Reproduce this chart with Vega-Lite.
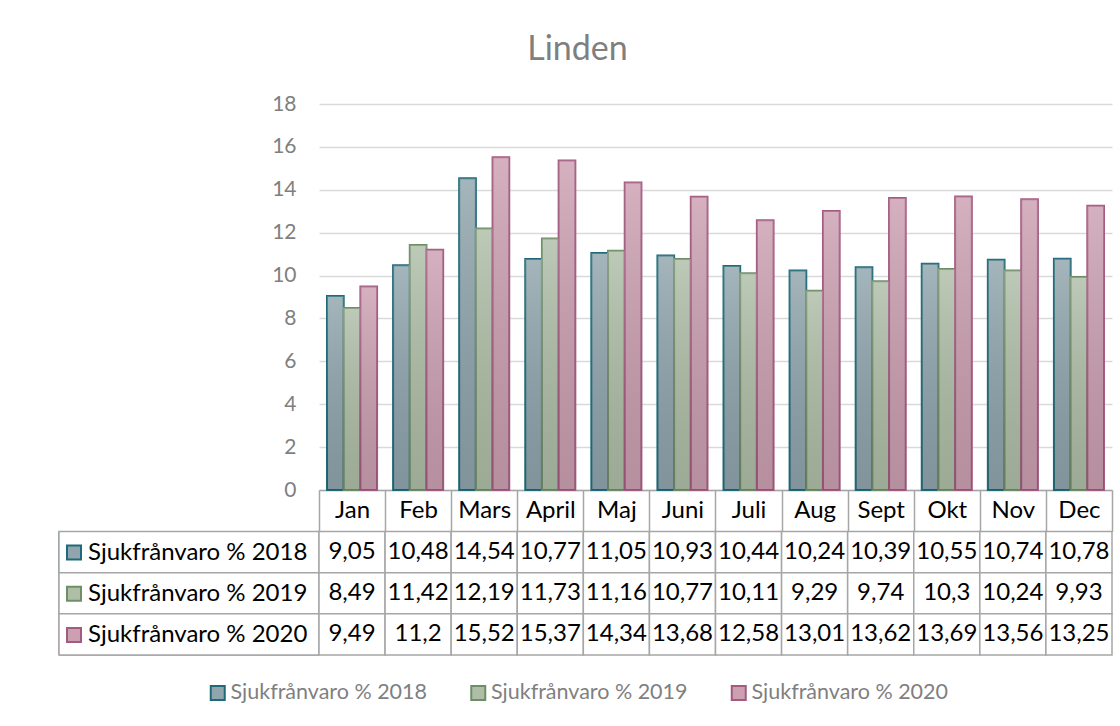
{
  "$schema": "https://vega.github.io/schema/vega-lite/v6.json",
  "background": "white",
  "padding": {"left": 58, "top": 33, "right": 9, "bottom": 20},
  "title": {"text": "Linden", "fontSize": 34, "font": "Lato", "fontWeight": "normal", "color": "#7f7f7f", "anchor": "middle", "frame": "bounds", "offset": 26, "dx": -8},
  "config": {
    "view": {"stroke": null},
    "font": "Lato",
    "locale": {"number": {"decimal": ",", "thousands": " ", "grouping": [3], "currency": ["", " kr"]}}
  },
  "datasets": {
    "d": [
      {"month": "Jan", "series": "Sjukfrånvaro % 2018", "value": 9.05},
      {"month": "Feb", "series": "Sjukfrånvaro % 2018", "value": 10.48},
      {"month": "Mars", "series": "Sjukfrånvaro % 2018", "value": 14.54},
      {"month": "April", "series": "Sjukfrånvaro % 2018", "value": 10.77},
      {"month": "Maj", "series": "Sjukfrånvaro % 2018", "value": 11.05},
      {"month": "Juni", "series": "Sjukfrånvaro % 2018", "value": 10.93},
      {"month": "Juli", "series": "Sjukfrånvaro % 2018", "value": 10.44},
      {"month": "Aug", "series": "Sjukfrånvaro % 2018", "value": 10.24},
      {"month": "Sept", "series": "Sjukfrånvaro % 2018", "value": 10.39},
      {"month": "Okt", "series": "Sjukfrånvaro % 2018", "value": 10.55},
      {"month": "Nov", "series": "Sjukfrånvaro % 2018", "value": 10.74},
      {"month": "Dec", "series": "Sjukfrånvaro % 2018", "value": 10.78},
      {"month": "Jan", "series": "Sjukfrånvaro % 2019", "value": 8.49},
      {"month": "Feb", "series": "Sjukfrånvaro % 2019", "value": 11.42},
      {"month": "Mars", "series": "Sjukfrånvaro % 2019", "value": 12.19},
      {"month": "April", "series": "Sjukfrånvaro % 2019", "value": 11.73},
      {"month": "Maj", "series": "Sjukfrånvaro % 2019", "value": 11.16},
      {"month": "Juni", "series": "Sjukfrånvaro % 2019", "value": 10.77},
      {"month": "Juli", "series": "Sjukfrånvaro % 2019", "value": 10.11},
      {"month": "Aug", "series": "Sjukfrånvaro % 2019", "value": 9.29},
      {"month": "Sept", "series": "Sjukfrånvaro % 2019", "value": 9.74},
      {"month": "Okt", "series": "Sjukfrånvaro % 2019", "value": 10.3},
      {"month": "Nov", "series": "Sjukfrånvaro % 2019", "value": 10.24},
      {"month": "Dec", "series": "Sjukfrånvaro % 2019", "value": 9.93},
      {"month": "Jan", "series": "Sjukfrånvaro % 2020", "value": 9.49},
      {"month": "Feb", "series": "Sjukfrånvaro % 2020", "value": 11.2},
      {"month": "Mars", "series": "Sjukfrånvaro % 2020", "value": 15.52},
      {"month": "April", "series": "Sjukfrånvaro % 2020", "value": 15.37},
      {"month": "Maj", "series": "Sjukfrånvaro % 2020", "value": 14.34},
      {"month": "Juni", "series": "Sjukfrånvaro % 2020", "value": 13.68},
      {"month": "Juli", "series": "Sjukfrånvaro % 2020", "value": 12.58},
      {"month": "Aug", "series": "Sjukfrånvaro % 2020", "value": 13.01},
      {"month": "Sept", "series": "Sjukfrånvaro % 2020", "value": 13.62},
      {"month": "Okt", "series": "Sjukfrånvaro % 2020", "value": 13.69},
      {"month": "Nov", "series": "Sjukfrånvaro % 2020", "value": 13.56},
      {"month": "Dec", "series": "Sjukfrånvaro % 2020", "value": 13.25}
    ]
  },
  "columns": 2,
  "spacing": {"row": 41.5, "column": 0},
  "bounds": "flush",
  "resolve": {
    "scale": {"fill": "independent", "stroke": "independent"},
    "legend": {"fill": "independent", "stroke": "independent"}
  },
  "concat": [
    {
      "width": 260,
      "height": 386,
      "data": {"values": []},
      "mark": "point"
    },
    {
      "width": 793,
      "height": 386,
      "data": {"name": "d"},
      "encoding": {
        "x": {
          "field": "month", "type": "nominal",
          "sort": ["Jan", "Feb", "Mars", "April", "Maj", "Juni", "Juli", "Aug", "Sept", "Okt", "Nov", "Dec"],
          "scale": {"paddingInner": 0, "paddingOuter": 0},
          "axis": {
            "title": null, "orient": "bottom", "tickBand": "extent", "ticks": true,
            "tickSize": 41.5, "tickColor": "#a6a6a6", "tickWidth": 1.5,
            "domain": true, "domainColor": "#a6a6a6", "domainWidth": 1.5,
            "labelFontSize": 24, "labelFont": "Lato", "labelColor": "black",
            "labelBaseline": "middle", "labelPadding": -21, "labelAngle": 0, "grid": false
          }
        },
        "xOffset": {"field": "series", "type": "nominal", "scale": {"paddingInner": 0, "paddingOuter": 0.48}},
        "y": {
          "field": "value", "type": "quantitative",
          "scale": {"domain": [0, 18], "nice": false},
          "axis": {
            "title": null, "values": [0, 2, 4, 6, 8, 10, 12, 14, 16, 18],
            "grid": true, "gridColor": "#d9d9d9", "gridWidth": 1.5,
            "domain": false, "ticks": false,
            "labelFontSize": 21, "labelFont": "Lato", "labelColor": "#7f7f7f", "labelPadding": 23
          }
        }
      },
      "layer": [
        {
          "mark": {"type": "bar", "strokeWidth": 2},
          "encoding": {
            "fill": {
              "field": "series", "type": "nominal",
              "scale": {"range": ["#90a5ad", "#aebea7", "#cca0b1"]},
              "legend": {"orient": "none", "legendX": -112, "legendY": 578, "direction": "horizontal", "title": null,
                "labelFontSize": 21.5, "labelFont": "Lato", "labelColor": "#7f7f7f", "labelLimit": 400, "symbolType": "square",
                "symbolSize": 196, "symbolStrokeWidth": 2, "labelOffset": 2, "columnPadding": 38.5, "padding": 0}
            },
            "stroke": {
              "field": "series", "type": "nominal",
              "scale": {"range": ["#1f6a78", "#6f8e68", "#a35a80"]},
              "legend": {"orient": "none", "legendX": -112, "legendY": 578, "direction": "horizontal", "title": null,
                "labelFontSize": 21.5, "labelFont": "Lato", "labelColor": "#7f7f7f", "labelLimit": 400, "symbolType": "square",
                "symbolSize": 196, "symbolStrokeWidth": 2, "labelOffset": 2, "columnPadding": 38.5, "padding": 0}
            }
          }
        },
        {
          "mark": {
            "type": "bar",
            "fill": {"gradient": "linear", "x1": 0, "y1": 0, "x2": 0, "y2": 1,
              "stops": [{"offset": 0, "color": "rgba(255,255,255,0.18)"}, {"offset": 1, "color": "rgba(0,0,0,0.10)"}]}
          }
        }
      ]
    },
    {
      "width": 260,
      "height": 123.5,
      "data": {"name": "d"},
      "transform": [{"aggregate": [{"op": "count", "as": "n"}], "groupby": ["series"]}],
      "encoding": {
        "y": {"field": "series", "type": "nominal", "axis": null, "scale": {"paddingInner": 0, "paddingOuter": 0}}
      },
      "layer": [
        {
          "mark": {"type": "rect"},
          "encoding": {
            "fill": {
              "field": "series", "type": "nominal",
              "scale": {"range": ["#90a5ad", "#aebea7", "#cca0b1"]},
              "legend": {"orient": "none", "legendX": 3, "legendY": 9, "direction": "vertical", "title": null,
                "labelFontSize": 24, "labelFont": "Lato", "labelColor": "black", "labelLimit": 400, "symbolType": "square",
                "symbolSize": 196, "symbolStrokeWidth": 2, "labelOffset": 2, "rowPadding": 17.2, "padding": 0}
            },
            "stroke": {
              "field": "series", "type": "nominal",
              "scale": {"range": ["#1f6a78", "#6f8e68", "#a35a80"]},
              "legend": {"orient": "none", "legendX": 3, "legendY": 9, "direction": "vertical", "title": null,
                "labelFontSize": 24, "labelFont": "Lato", "labelColor": "black", "labelLimit": 400, "symbolType": "square",
                "symbolSize": 196, "symbolStrokeWidth": 2, "labelOffset": 2, "rowPadding": 17.2, "padding": 0}
            }
          }
        },
        {
          "mark": {"type": "rect", "fill": "white", "stroke": "#a6a6a6", "strokeWidth": 1.5}
        }
      ]
    },
    {
      "width": 793,
      "height": 123.5,
      "data": {"name": "d"},
      "encoding": {
        "x": {"field": "month", "type": "nominal",
          "sort": ["Jan", "Feb", "Mars", "April", "Maj", "Juni", "Juli", "Aug", "Sept", "Okt", "Nov", "Dec"],
          "axis": null, "scale": {"paddingInner": 0, "paddingOuter": 0}},
        "y": {"field": "series", "type": "nominal", "axis": null, "scale": {"paddingInner": 0, "paddingOuter": 0}}
      },
      "layer": [
        {"mark": {"type": "rect", "fill": "white", "stroke": "#a6a6a6", "strokeWidth": 1.5}},
        {
          "mark": {"type": "text", "fontSize": 24, "font": "Lato", "color": "black"},
          "encoding": {"text": {"field": "value", "type": "quantitative", "format": ".4~g"}}
        }
      ]
    }
  ]
}
